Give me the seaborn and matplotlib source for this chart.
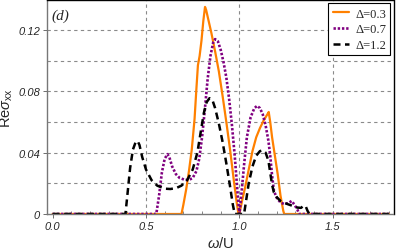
import numpy as np
import pandas as pd
import matplotlib
matplotlib.use('Agg')
import matplotlib.pyplot as plt
import seaborn as sns

# Re sigma_xx vs omega/U, three gap values
W_03 = [0.0, 0.69, 0.70, 0.715, 0.73, 0.745, 0.76, 0.77, 0.778, 0.787, 0.797, 0.807, 0.816, 0.822,
        0.835, 0.85, 0.87, 0.89, 0.91, 0.93, 0.95, 0.97, 0.985, 0.995, 1.0, 1.015, 1.03, 1.05,
        1.07, 1.09, 1.11, 1.13, 1.15, 1.157, 1.165, 1.175, 1.19, 1.205, 1.22, 1.235, 1.24, 1.8]
S_03 = [0.0, 0.0, 0.006, 0.016, 0.028, 0.042, 0.062, 0.082, 0.097, 0.103, 0.113, 0.126, 0.135, 0.133,
        0.126, 0.118, 0.106, 0.093, 0.077, 0.060, 0.042, 0.022, 0.008, 0.0, 0.0, 0.009, 0.017, 0.029,
        0.041, 0.050, 0.056, 0.061, 0.065, 0.0665, 0.060, 0.050, 0.038, 0.026, 0.012, 0.002, 0.0, 0.0]

W_07 = [0.0, 0.555, 0.57, 0.585, 0.60, 0.615, 0.625, 0.64, 0.66, 0.68, 0.71, 0.73, 0.75, 0.77,
        0.785, 0.80, 0.815, 0.83, 0.845, 0.86, 0.87, 0.885, 0.90, 0.915, 0.93, 0.945, 0.96, 0.975,
        0.99, 1.0, 1.01, 1.025, 1.04, 1.06, 1.08, 1.095, 1.11, 1.125, 1.14, 1.155, 1.165, 1.175,
        1.185, 1.20, 1.22, 1.24, 1.26, 1.28, 1.295, 1.31, 1.32, 1.8]
S_07 = [0.0, 0.0, 0.012, 0.027, 0.036, 0.039, 0.037, 0.031, 0.026, 0.0235, 0.0222, 0.0222, 0.0235, 0.028,
        0.036, 0.050, 0.068, 0.088, 0.103, 0.112, 0.114, 0.1125, 0.107, 0.099, 0.089, 0.075, 0.058, 0.038,
        0.014, 0.0, 0.012, 0.032, 0.050, 0.063, 0.069, 0.0705, 0.069, 0.065, 0.058, 0.048, 0.038, 0.025,
        0.015, 0.0105, 0.0075, 0.0065, 0.007, 0.0085, 0.006, 0.003, 0.0, 0.0]

W_12 = [0.0, 0.39, 0.40, 0.415, 0.43, 0.445, 0.455, 0.465, 0.48, 0.50, 0.53, 0.56, 0.60, 0.63,
        0.66, 0.69, 0.72, 0.75, 0.775, 0.795, 0.81, 0.825, 0.84, 0.855, 0.87, 0.89, 0.91, 0.93,
        0.95, 0.965, 0.975, 1.025, 1.035, 1.05, 1.07, 1.09, 1.11, 1.125, 1.14, 1.155, 1.165, 1.175,
        1.185, 1.20, 1.22, 1.25, 1.28, 1.31, 1.33, 1.345, 1.355, 1.365, 1.375, 1.8]
S_12 = [0.0, 0.0, 0.012, 0.030, 0.042, 0.047, 0.0476, 0.045, 0.037, 0.029, 0.022, 0.0185, 0.0165, 0.0163,
        0.0168, 0.0185, 0.022, 0.029, 0.040, 0.055, 0.066, 0.073, 0.0755, 0.0745, 0.069, 0.059, 0.047, 0.033,
        0.018, 0.006, 0.0, 0.0, 0.008, 0.020, 0.031, 0.038, 0.041, 0.0415, 0.040, 0.035, 0.027, 0.019,
        0.014, 0.011, 0.0085, 0.0068, 0.0055, 0.0042, 0.004, 0.0055, 0.005, 0.002, 0.0, 0.0]

LABELS = ['Δ=0.3', 'Δ=0.7', 'Δ=1.2']
COLORS = ['#ff8000', '#800080', 'black']
STYLES = ['-', (0, (0.9, 0.7)), (0, (2.8, 1.8))]
WIDTHS = [1.6, 1.9, 1.8]

X_TICKS = [0.0, 0.5, 1.0, 1.5]
Y_TICKS = [0, 0.04, 0.08, 0.12]
Y_TICK_LABELS = ['0', '0.04', '0.08', '0.12']
X_GRID = [0.5, 1.0, 1.5]
Y_GRID = [0.02, 0.04, 0.06, 0.08, 0.10, 0.12]

sns.set_style('ticks')
plt.rcParams['font.family'] = ['Liberation Sans', 'DejaVu Sans']
plt.rcParams['mathtext.fontset'] = 'custom'
plt.rcParams['mathtext.rm'] = 'Liberation Sans'
plt.rcParams['mathtext.it'] = 'Liberation Sans:italic'

fig = plt.figure(figsize=(3.96, 2.51), dpi=100)
ax = fig.add_axes([47 / 396, 36 / 251, 346.5 / 396, 214 / 251])

for x in X_GRID:
  ax.axvline(x, color='#8a8a8a', lw=0.8, ls=(0, (3, 3)), zorder=0)
for y in Y_GRID:
  ax.axhline(y, color='#8a8a8a', lw=0.8, ls=(0, (3, 3)), zorder=0)

series = [(W_03, S_03), (W_07, S_07), (W_12, S_12)]
for (w, s), lab, c, st, lw in zip(series, LABELS, COLORS, STYLES, WIDTHS):
  df = pd.DataFrame({'w': w, 's': s})
  sns.lineplot(data=df, x='w', y='s', ax=ax, color=c, linestyle=st, lw=lw, label=lab,
               estimator=None, sort=False)

ax.set_xlim(-0.03, 1.825)
ax.set_ylim(0, 0.1395)
ax.set_xticks(X_TICKS)
ax.set_xticklabels([f'{t:.1f}' for t in X_TICKS])
ax.set_xticks(np.arange(0, 1.81, 0.1), minor=True)
ax.set_yticks(Y_TICKS)
ax.set_yticklabels(Y_TICK_LABELS)
ax.tick_params(axis='both', which='major', direction='out', length=3, width=0.6,
               labelsize=8, pad=2, color='#555555')
ax.tick_params(axis='x', which='minor', direction='in', length=2, width=0.5, color='#555555')
for t in ax.get_xticklabels() + ax.get_yticklabels():
  t.set_fontstyle('italic')

for side in ['left', 'bottom']:
  ax.spines[side].set_color('#777777')
  ax.spines[side].set_linewidth(1.0)
for side in ['top', 'right']:
  ax.spines[side].set_color('black')
  ax.spines[side].set_linewidth(1.0)

ax.set_xlabel(r'$\omega$/U', fontsize=10.5, labelpad=3)
ax.set_ylabel(r'Re$\sigma_{\rm xx}$', fontsize=10.5, labelpad=2)

ax.text(0.014, 0.93, '(d)', transform=ax.transAxes, fontsize=11, fontstyle='italic',
        family='Liberation Serif', va='center', ha='left')

leg = ax.legend(loc='upper right', bbox_to_anchor=(1.0, 1.0), borderaxespad=0.25,
                prop={'family': 'Liberation Serif', 'size': 9}, frameon=True, fancybox=False,
                handlelength=1.3, handletextpad=0.5, labelspacing=0.3, borderpad=0.35)
leg.get_frame().set_edgecolor('black')
leg.get_frame().set_linewidth(0.8)
leg.get_frame().set_alpha(1)

fig.savefig('out.png', dpi=100)
